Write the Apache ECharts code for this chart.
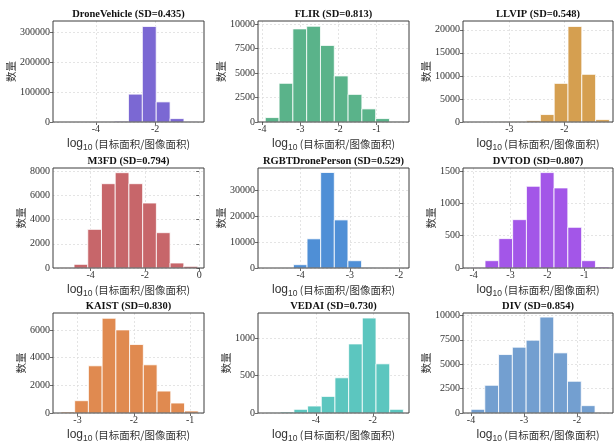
<!DOCTYPE html>
<html><head><meta charset="utf-8">
<script src="https://cdn.jsdelivr.net/npm/echarts@6/dist/echarts.min.js"></script>
<style>html,body{margin:0;padding:0;background:#fff}#c{width:616px;height:445px}</style>
</head><body><div id="c"></div>
<script>
// ---- data ----
const datasetNames = ['DroneVehicle','FLIR','LLVIP','M3FD','RGBTDronePerson','DVTOD','KAIST','VEDAI','DIV'];
const sdValues = ['0.435','0.813','0.548','0.794','0.529','0.807','0.830','0.730','0.854'];

const droneVehicleCounts = [10, 30, 80, 300, 2500, 93000, 318800, 67100, 11400, 800];
const flirCounts = [452, 3946, 9496, 9764, 7811, 4697, 2816, 1336, 349, 40];
const llvipCounts = [5, 15, 40, 120, 300, 1614, 8375, 20720, 10340, 520];
const m3fdCounts = [20, 302, 3189, 6955, 7863, 6955, 5361, 2914, 412, 137];
const rgbtCounts = [3, 20, 1277, 11234, 36766, 18511, 2809, 150, 20, 5];
const dvtodCounts = [5, 113, 454, 747, 1263, 1474, 1237, 629, 113, 15];
const kaistCounts = [72, 888, 3408, 6840, 6000, 4944, 3480, 1584, 720, 144];
const vedaiCounts = [3, 13, 49, 93, 221, 469, 920, 1265, 655, 49];
const divCounts = [377, 2842, 5993, 6747, 7466, 9829, 6164, 3253, 753, 60];

// histogram bin edges: first edge and bin width (log10 units)
const binStarts = [-5.245, -3.92, -3.69, -5.12, -4.70, -4.064, -3.295, -5.734, -4.00];
const binWidths = [0.469, 0.362, 0.251, 0.506, 0.277, 0.374, 0.244, 0.481, 0.26];

const xTickValues = [[-4,-2],[-4,-3,-2,-1],[-3,-2],[-4,-2,0],[-4,-3,-2],[-4,-3,-2,-1],[-3,-2,-1],[-4,-2],[-4,-3,-2]];
const yTickValues = [
  [0,100000,200000,300000],
  [0,2500,5000,7500,10000],
  [0,5000,10000,15000,20000],
  [0,2000,4000,6000,8000],
  [0,10000,20000,30000],
  [0,500,1000,1500],
  [0,2000,4000,6000],
  [0,500,1000],
  [0,2500,5000,7500,10000]
];

// ---- layout / style ----
const allCounts = [droneVehicleCounts, flirCounts, llvipCounts, m3fdCounts, rgbtCounts, dvtodCounts, kaistCounts, vedaiCounts, divCounts];
const xRanges = [[-5.45,-0.347],[-4.111,-0.150],[-3.842,-1.115],[-5.39,0.178],[-4.866,-1.797],[-4.287,-0.222],[-3.436,-0.753],[-6.035,-0.726],[-4.151,-1.321]];
const yMaxes = [337000, 10300, 21900, 8250, 38500, 1545, 7220, 1332, 10250];
const colors = ['#7b68d3','#5ab38a','#d59f50','#c7666a','#4f8fd6','#a356e8','#e08a50','#5cc6bf','#739fd0'];
const nameGaps = [36, 24, 32, 26, 25, 23, 26, 25, 23];
const colLeft = [53, 258, 463];
const colWidth = [151, 151, 150];
const rowTop = [21, 168, 313];
const rowHeight = [101, 100, 100];

const serif = '"Liberation Serif", "Times New Roman", serif';
const cjk = '"Noto Sans CJK SC", sans-serif';

const grids = [], xAxes = [], yAxes = [], series = [], graphics = [];
for (let i = 0; i < 9; i++) {
  const r = Math.floor(i / 3), c = i % 3;
  grids.push({
    left: colLeft[c], top: rowTop[r], width: colWidth[c], height: rowHeight[r],
    show: true, z: 10, backgroundColor: 'transparent', borderColor: '#3c3c3c', borderWidth: 1
  });
  xAxes.push({
    type: 'value', gridIndex: i, min: xRanges[i][0], max: xRanges[i][1],
    axisLine: {show: false},
    axisTick: {show: true, inside: false, length: 3, lineStyle: {color: '#444', width: 0.8}, customValues: xTickValues[i]},
    axisLabel: {customValues: xTickValues[i], margin: 2, fontFamily: serif, fontSize: 10, color: '#333',
      formatter: v => String(v)},
    splitLine: {show: true, lineStyle: {color: '#dedede', type: [2, 2], width: 0.8}},
    name: '{l|log}{s|10}{c| (目标面积/图像面积)}',
    nameLocation: 'middle', nameGap: 14,
    nameTextStyle: {
      rich: {
        l: {fontFamily: '"Liberation Sans", Arial, sans-serif', fontSize: 12, color: '#333', lineHeight: 16, verticalAlign: 'middle'},
        s: {fontFamily: '"Liberation Sans", Arial, sans-serif', fontSize: 8.5, color: '#333', lineHeight: 16, verticalAlign: 'bottom', padding: [0,0,0,0]},
        c: {fontFamily: cjk, fontSize: 10.5, color: '#333', lineHeight: 16, verticalAlign: 'middle'}
      }
    }
  });
  yAxes.push({
    type: 'value', gridIndex: i, min: 0, max: yMaxes[i],
    axisLine: {show: false},
    axisTick: {show: true, inside: false, length: 3, lineStyle: {color: '#444', width: 0.8}, customValues: yTickValues[i]},
    axisLabel: {customValues: yTickValues[i], margin: 3, fontFamily: serif, fontSize: 10, color: '#333',
      formatter: v => String(v)},
    splitLine: {show: true, lineStyle: {color: '#dedede', type: [2, 2], width: 0.8}},
    name: '数量', nameLocation: 'middle', nameRotate: 90, nameGap: nameGaps[i],
    nameTextStyle: {fontFamily: cjk, fontSize: 10.5, color: '#333'}
  });
  const counts = allCounts[i];
  const data = counts.map((v, k) => [binStarts[i] + k * binWidths[i], binStarts[i] + (k + 1) * binWidths[i], v]);
  const col = colors[i];
  series.push({
    type: 'custom', xAxisIndex: i, yAxisIndex: i, z: 2,
    encode: {x: [0, 1], y: 2},
    data: data,
    renderItem: (params, api) => {
      const p0 = api.coord([api.value(0), api.value(2)]);
      const p1 = api.coord([api.value(1), 0]);
      return {type: 'rect', shape: {x: p0[0], y: p0[1], width: p1[0] - p0[0], height: p1[1] - p0[1]},
        style: {fill: col, stroke: '#ffffff', lineWidth: 0.8}};
    }
  });
  graphics.push({
    type: 'text', x: colLeft[c] + colWidth[c] / 2, y: rowTop[r] - 7,
    style: {text: datasetNames[i] + ' (SD=' + sdValues[i] + ')', fontFamily: serif, fontWeight: 'bold',
      fontSize: 10.5, fill: '#111', align: 'center', verticalAlign: 'middle'}
  });
}

const chart = echarts.init(document.getElementById('c'), null, {renderer: 'canvas'});
chart.setOption({
  animation: false,
  backgroundColor: '#ffffff',
  grid: grids, xAxis: xAxes, yAxis: yAxes, series: series,
  graphic: graphics
});
</script></body></html>
